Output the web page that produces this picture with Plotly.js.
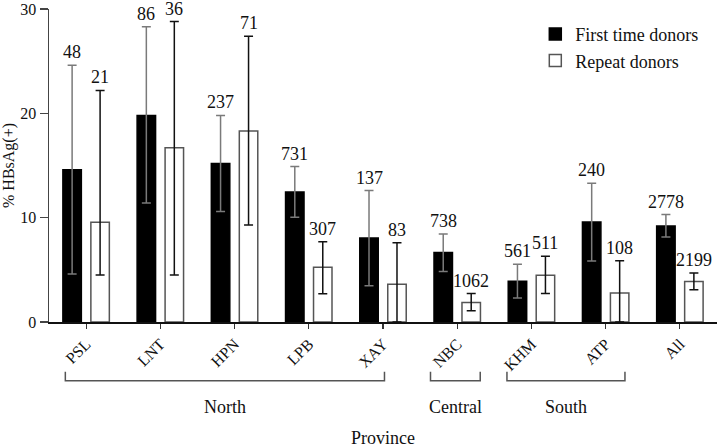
<!DOCTYPE html>
<html>
<head>
<meta charset="utf-8">
<script src="https://cdn.plot.ly/plotly-3.0.1.min.js"></script>
<style>html,body{margin:0;padding:0;background:#fff;}#chart{width:717px;height:448px;}</style>
</head>
<body>
<div id="chart"></div>
<script>
// Data
var categories = ['PSL', 'LNT', 'HPN', 'LPB', 'XAY', 'NBC', 'KHM', 'ATP', 'All'];
var firstVals  = [14.6, 19.8, 15.2, 12.45, 8.05, 6.65, 3.9, 9.58, 9.2];
var firstUpper = [24.6, 28.3, 19.8, 14.9, 12.6, 8.43, 5.54, 13.3, 10.3];
var firstLower = [4.6, 11.4, 10.6, 10.05, 3.47, 4.83, 2.29, 5.85, 8.15];
var repeatVals  = [9.55, 16.7, 18.3, 5.25, 3.63, 1.87, 4.49, 2.77, 3.89];
var repeatUpper = [22.2, 28.8, 27.4, 7.7, 7.6, 2.73, 6.3, 5.86, 4.7];
var repeatLower = [4.5, 4.5, 9.3, 2.7, 0, 1.08, 2.73, 0, 3.1];
var firstN  = [48, 86, 237, 731, 137, 738, 561, 240, 2778];
var repeatN = [21, 36, 71, 307, 83, 1062, 511, 108, 2199];
var regionNames = ['North', 'Central', 'South'];
var regionFirst = [0, 5, 6];   // index of first category in each region
var regionLast  = [4, 5, 7];   // index of last category in each region

var FONT = '"Liberation Serif", "Times New Roman", serif';

function diff(a, b) { return a.map(function (v, i) { return v - b[i]; }); }

var traceFirst = {
  type: 'bar', name: 'First time donors', x: categories, y: firstVals,
  marker: {color: '#000', line: {color: '#000', width: 1.5}},
  error_y: {type: 'data', symmetric: false, array: diff(firstUpper, firstVals),
            arrayminus: diff(firstVals, firstLower), color: '#7a7a7a', thickness: 1.5, width: 4.5},
  hoverinfo: 'skip'
};
var traceRepeat = {
  type: 'bar', name: 'Repeat donors', x: categories, y: repeatVals,
  marker: {color: '#fff', line: {color: '#555', width: 1.5}},
  error_y: {type: 'data', symmetric: false, array: diff(repeatUpper, repeatVals),
            arrayminus: diff(repeatVals, repeatLower), color: '#111', thickness: 1.5, width: 4.5},
  hoverinfo: 'skip'
};

var annotations = [];
categories.forEach(function (c, i) {
  annotations.push({x: c, y: firstUpper[i], xref: 'x', yref: 'y', text: String(firstN[i]),
    showarrow: false, xshift: -14, yshift: 13, yanchor: 'middle',
    font: {family: FONT, size: 18, color: '#111'}});
  annotations.push({x: c, y: repeatUpper[i], xref: 'x', yref: 'y', text: String(repeatN[i]),
    showarrow: false, xshift: 14, yshift: 13, yanchor: 'middle',
    font: {family: FONT, size: 18, color: '#111'}});
});

var shapes = [];
var bracketTop = -0.159, bracketBottom = -0.188, labelY = -0.271;
var pad = [0.28, 0.36, 0.33];
var padR = [0.02, 0.31, 0.26];
regionNames.forEach(function (name, r) {
  var x0 = regionFirst[r] - pad[r], x1 = regionLast[r] + padR[r];
  shapes.push({type: 'path', xref: 'x', yref: 'paper',
    path: 'M' + x0 + ',' + bracketTop + ' L' + x0 + ',' + bracketBottom + ' L' + x1 + ',' + bracketBottom + ' L' + x1 + ',' + bracketTop,
    line: {color: '#555', width: 1.5}});
  annotations.push({x: (x0 + x1) / 2, y: labelY, xref: 'x', yref: 'paper', text: name,
    showarrow: false, yanchor: 'middle', font: {family: FONT, size: 18, color: '#111'}});
});

var layout = {
  width: 717, height: 448,
  margin: {l: 49, r: 0, t: 9, b: 126},
  paper_bgcolor: '#fff', plot_bgcolor: '#fff',
  barmode: 'group', bargap: 0.246, bargroupgap: 0.34,
  showlegend: true,
  legend: {x: 0.728, y: 0.978, xanchor: 'left', yanchor: 'top', bgcolor: 'rgba(0,0,0,0)',
           font: {family: FONT, size: 18, color: '#111'}, tracegroupgap: 0},
  font: {family: FONT, color: '#111'},
  xaxis: {
    type: 'category', range: [-0.5, 8.5], showgrid: false, zeroline: false,
    showline: true, linecolor: '#111', linewidth: 1.5,
    ticks: 'outside', ticklen: 5, tickwidth: 1.2, tickcolor: '#333',
    tickangle: -45, tickfont: {family: FONT, size: 16, color: '#111'},
    title: {text: 'Province', font: {family: FONT, size: 18, color: '#111'}, standoff: 74},
    automargin: false, fixedrange: true
  },
  yaxis: {
    range: [0, 30], tickvals: [0, 10, 20, 30], showgrid: false, zeroline: false,
    showline: true, linecolor: '#444', linewidth: 1.5,
    ticks: 'outside', ticklen: 8, tickwidth: 1.2, tickcolor: '#444',
    tickfont: {family: FONT, size: 16, color: '#111'},
    title: {text: '% HBsAg(+)', font: {family: FONT, size: 16, color: '#111'}, standoff: 4},
    automargin: false, fixedrange: true
  },
  annotations: annotations,
  shapes: shapes
};

Plotly.newPlot('chart', [traceFirst, traceRepeat], layout, {displayModeBar: false, staticPlot: true});
</script>
</body>
</html>
